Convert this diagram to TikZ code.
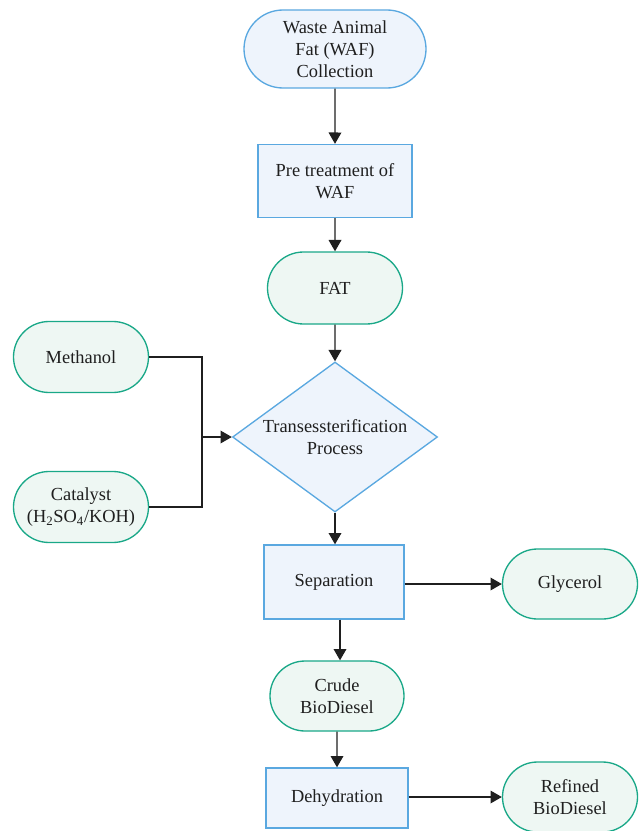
\documentclass[tikz,border=0pt]{standalone}
\usepackage{fontspec}
\setmainfont{Liberation Serif}
\usetikzlibrary{shapes.misc,shapes.geometric,arrows.meta}
\definecolor{bstroke}{RGB}{90,168,224}
\definecolor{bfill}{RGB}{238,244,252}
\definecolor{gstroke}{RGB}{26,168,136}
\definecolor{gfill}{RGB}{238,247,243}
\begin{document}
\begin{tikzpicture}[x=0.75pt,y=-0.75pt,
  every node/.style={font=\fontsize{13.8}{16.5}\selectfont, align=center, inner sep=0pt, line width=1pt, text=black!88},
  procbox/.style={rectangle, draw=bstroke, fill=bfill},
  startterm/.style={rounded rectangle, draw=bstroke, fill=bfill},
  greenterm/.style={rounded rectangle, draw=gstroke, fill=gfill},
  decbox/.style={diamond, shape aspect=1.37, draw=bstroke, fill=bfill},
  arr/.style={draw=black!88, line width=1pt, -{Triangle[length=8.5pt,width=9.5pt]}},
  conn/.style={draw=black!88, line width=1pt}]
\useasboundingbox (0,0) rectangle (639,831);
\node[startterm, minimum width=136.5pt, minimum height=58.5pt] (waf) at (335,49) {Waste Animal\\Fat (WAF)\\Collection};
\node[procbox, minimum width=115.5pt, minimum height=54.75pt] (pre) at (335,181) {Pre treatment of\\WAF};
\node[greenterm, minimum width=101.25pt, minimum height=54pt] (fat) at (335,288) {FAT};
\node[decbox, minimum width=153.75pt, minimum height=112.5pt] (dia) at (335,437) {Transessterification\\Process};
\node[greenterm, minimum width=101.25pt, minimum height=53.25pt] (meth) at (81,357) {Methanol};
\node[greenterm, minimum width=101.25pt, minimum height=53.25pt] (cat) at (81,507) {Catalyst\\(H\textsubscript{2}SO\textsubscript{4}/KOH)};
\node[procbox, minimum width=105pt, minimum height=55.5pt] (sep) at (334,582) {Separation};
\node[greenterm, minimum width=101.25pt, minimum height=52.5pt] (gly) at (570,584) {Glycerol};
\node[greenterm, minimum width=100.5pt, minimum height=52.5pt] (crude) at (337,696) {Crude\\BioDiesel};
\node[procbox, minimum width=106.5pt, minimum height=45pt] (dehy) at (337,798) {Dehydration};
\node[greenterm, minimum width=101.25pt, minimum height=52.5pt] (ref) at (570,797) {Refined\\BioDiesel};
\coordinate (j) at (202,437);
\draw[arr] (waf) -- (pre);
\draw[arr] (pre) -- (fat);
\draw[arr] (fat) -- (dia);
\draw[conn] (meth.east) -| (j) |- (cat.east);
\draw[arr] (j) -- (dia.west);
\draw[arr] (dia.south) -- (dia.south |- sep.north);
\draw[arr] (sep.east |- gly.west) -- (gly.west);
\draw[arr] (sep.south -| 340,0) -- (340,0 |- crude.north);
\draw[arr] (crude) -- (dehy);
\draw[arr] (dehy.east |- ref.west) -- (ref.west);
\end{tikzpicture}
\end{document}
